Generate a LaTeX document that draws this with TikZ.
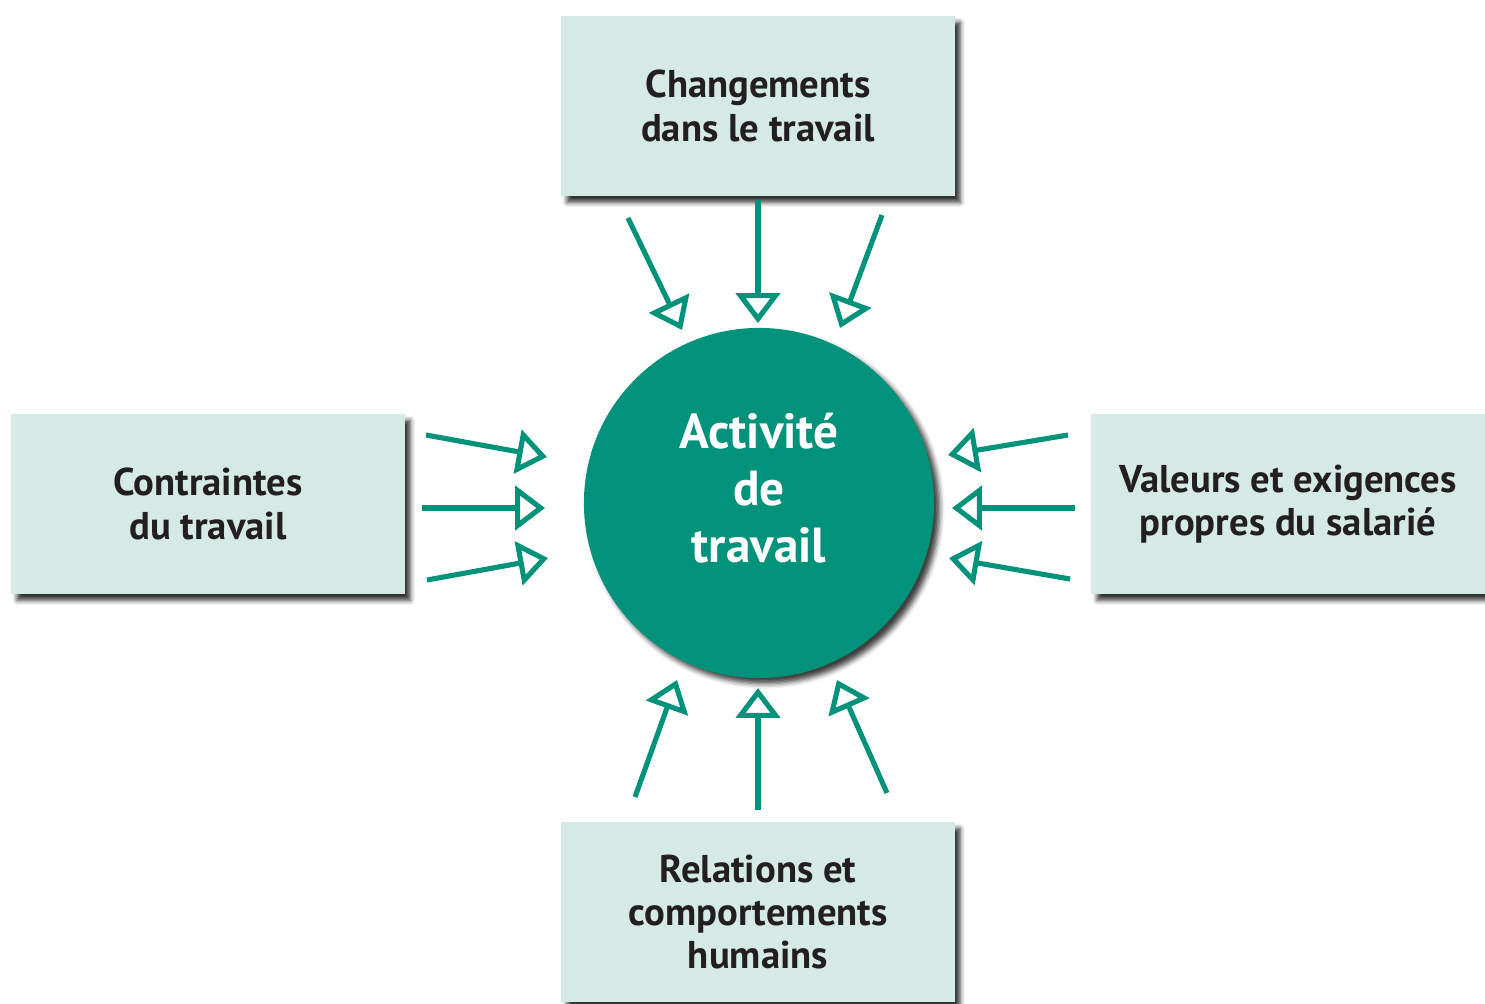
\documentclass[tikz,border=0pt]{standalone}
\usepackage{fontspec}
\setmainfont{PT Sans}
\usetikzlibrary{arrows.meta,shadows.blur}

\begin{document}
\begin{tikzpicture}[x=0.01cm,y=-0.01cm,
  boite/.style={rectangle,fill=menthe,minimum width=3.93cm,minimum height=1.8cm,align=center,text=encre,
    font=\fontsize{11}{12.3}\selectfont\bfseries,
    blur shadow={shadow xshift=1.6pt,shadow yshift=-1.8pt,shadow blur radius=1.3pt,shadow opacity=80}},
  fleche/.style={draw=sarcelle,line width=1.45pt,-{Triangle[open,length=8.5pt,width=12.5pt]}}]
\definecolor{sarcelle}{HTML}{00927A}
\definecolor{menthe}{HTML}{D5EAE5}
\definecolor{encre}{HTML}{231F20}
\useasboundingbox (0,0) rectangle (1485,1003);

\node[boite] (chg) at (758,106) {Changements\\dans le travail};
\node[boite] (ctr) at (208,504) {Contraintes\\du travail};
\node[boite] (val) at (1288,504) {Valeurs et exigences\\propres du salarié};
\node[boite] (rel) at (758,912) {Relations et\\comportements\\humains};

\node[circle,fill=sarcelle,minimum size=3.5cm,align=center,text=white,text depth=8.5pt,
  font=\fontsize{14}{16.2}\selectfont\bfseries,
  blur shadow={shadow xshift=1.6pt,shadow yshift=-1.6pt,shadow blur radius=1.4pt,shadow opacity=75}]
  (act) at (759,503) {Activité\\de\\travail};

\foreach \n/\xa/\ya/\xb/\yb in {h1/628/218/682/330,h2/758/200/758/323,h3/882/215/840/328,
  g1/426/435/547/457,g2/422/508/545/508,g3/427/580/548/558,
  d1/1068/435/948/455,d2/1075/508/952/508,d3/1070/579/949/558,
  b1/635/797/677/680,b2/758/810/758/688,b3/887/793/837/680}
{ \coordinate (s\n) at (\xa,\ya);
  \coordinate (e\n) at (\xb,\yb);
  \draw[fleche] (s\n) -- (e\n);}
\end{tikzpicture}
\end{document}
